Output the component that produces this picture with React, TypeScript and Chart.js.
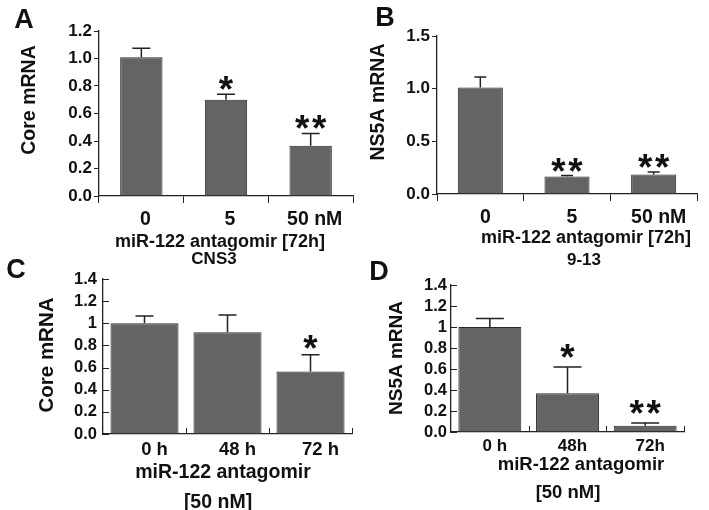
import React, { useEffect, useRef } from "react";
import { Chart, registerables } from "chart.js";

Chart.register(...registerables);

const W = 709;
const H = 510;
const FONT = '"Liberation Sans", Arial, Helvetica, sans-serif';
const BAR_FILL = "#646464";
const BAR_EDGE = "#2a2a2a";
const AXIS = "#222222";
const INK = "#111111";

// ---------- Panel A (CNS3, Core mRNA, dose) ----------
const catsA = ["0", "5", "50 nM"];
const valsA = [1.01, 0.7, 0.365];
const errsA = [0.065, 0.04, 0.09];
const starsA = ["", "*", "**"];
const yTicksA = [0, 0.2, 0.4, 0.6, 0.8, 1.0, 1.2];
const yLabelsA = ["0.0", "0.2", "0.4", "0.6", "0.8", "1.0", "1.2"];

// ---------- Panel B (9-13, NS5A mRNA, dose) ----------
const catsB = ["0", "5", "50 nM"];
const valsB = [1.01, 0.165, 0.185];
const errsB = [0.1, 0.01, 0.025];
const starsB = ["", "**", "**"];
const yTicksB = [0, 0.5, 1.0, 1.5];
const yLabelsB = ["0.0", "0.5", "1.0", "1.5"];

// ---------- Panel C (CNS3, Core mRNA, time) ----------
const catsC = ["0 h", "48 h", "72 h"];
const valsC = [1.0, 0.92, 0.565];
const errsC = [0.065, 0.155, 0.15];
const starsC = ["", "", "*"];
const yTicksC = [0, 0.2, 0.4, 0.6, 0.8, 1.0, 1.2, 1.4];
const yLabelsC = ["0.0", "0.2", "0.4", "0.6", "0.8", "1", "1.2", "1.4"];

// ---------- Panel D (9-13, NS5A mRNA, time) ----------
const catsD = ["0 h", "48h", "72h"];
const valsD = [1.0, 0.37, 0.06];
const errsD = [0.08, 0.25, 0.025];
const starsD = ["", "*", "**"];
const yTicksD = [0, 0.2, 0.4, 0.6, 0.8, 1.0, 1.2, 1.4];
const yLabelsD = ["0.0", "0.2", "0.4", "0.6", "0.8", "1", "1.2", "1.4"];

type TextItem = { text: string; x: number; y: number; size: number };

type Panel = {
  key: string;
  area: { left: number; right: number; top: number; bottom: number };
  cats: string[];
  vals: number[];
  errs: number[];
  stars: string[];
  yTicks: number[];
  yLabels: string[];
  yMax: number;
  barPct: number;
  inward: boolean;
  capHalf: number;
  starGap: number;
  xTickSize: number;
  yTickSize: number;
  xTickPad: number;
  yTickPad: number;
  labelOffset: number;
  letter: TextItem;
  yTitle: TextItem;
  xTitle: TextItem[];
};

const panels: Panel[] = [
  {
    key: "A",
    area: { left: 99, right: 353, top: 31, bottom: 196 },
    cats: catsA, vals: valsA, errs: errsA, stars: starsA,
    yTicks: yTicksA, yLabels: yLabelsA, yMax: 1.2,
    barPct: 0.5, inward: false, capHalf: 9, starGap: 11,
    xTickSize: 19.5, yTickSize: 17, xTickPad: 5, yTickPad: 2, labelOffset: 4,
    letter: { text: "A", x: 24, y: 21, size: 27 },
    yTitle: { text: "Core mRNA", x: 30, y: 100, size: 19.5 },
    xTitle: [
      { text: "miR-122 antagomir [72h]", x: 220, y: 242, size: 18 },
      { text: "CNS3", x: 214, y: 259, size: 17 },
    ],
  },
  {
    key: "B",
    area: { left: 437, right: 697, top: 36, bottom: 194 },
    cats: catsB, vals: valsB, errs: errsB, stars: starsB,
    yTicks: yTicksB, yLabels: yLabelsB, yMax: 1.5,
    barPct: 0.52, inward: false, capHalf: 6, starGap: 11,
    xTickSize: 19.5, yTickSize: 17, xTickPad: 5, yTickPad: 2, labelOffset: 5,
    letter: { text: "B", x: 385, y: 19, size: 27 },
    yTitle: { text: "NS5A mRNA", x: 379, y: 102, size: 19.5 },
    xTitle: [
      { text: "miR-122 antagomir [72h]", x: 586, y: 238, size: 18 },
      { text: "9-13", x: 584, y: 260, size: 17 },
    ],
  },
  {
    key: "C",
    area: { left: 103, right: 352, top: 279, bottom: 434 },
    cats: catsC, vals: valsC, errs: errsC, stars: starsC,
    yTicks: yTicksC, yLabels: yLabelsC, yMax: 1.4,
    barPct: 0.82, inward: true, capHalf: 9, starGap: 13,
    xTickSize: 18.5, yTickSize: 16.5, xTickPad: 5, yTickPad: 6, labelOffset: 10,
    letter: { text: "C", x: 16, y: 271, size: 27 },
    yTitle: { text: "Core mRNA", x: 47, y: 355, size: 20.5 },
    xTitle: [
      { text: "miR-122 antagomir", x: 223, y: 473, size: 19.5 },
      { text: "[50 nM]", x: 218, y: 503, size: 19.5 },
    ],
  },
  {
    key: "D",
    area: { left: 451, right: 684, top: 285, bottom: 432 },
    cats: catsD, vals: valsD, errs: errsD, stars: starsD,
    yTicks: yTicksD, yLabels: yLabelsD, yMax: 1.4,
    barPct: 0.81, inward: true, capHalf: 14, starGap: 16,
    xTickSize: 17, yTickSize: 16.5, xTickPad: 4, yTickPad: 4, labelOffset: 5,
    letter: { text: "D", x: 379, y: 273, size: 27 },
    yTitle: { text: "NS5A mRNA", x: 397, y: 358, size: 19 },
    xTitle: [
      { text: "miR-122 antagomir", x: 581, y: 465, size: 18.5 },
      { text: "[50 nM]", x: 568, y: 493, size: 18.5 },
    ],
  },
];

function boldFont(size: number) {
  return `bold ${size}px ${FONT}`;
}

function drawStar(ctx: CanvasRenderingContext2D, cx: number, cy: number, inkH: number) {
  ctx.font = boldFont(100);
  const m = ctx.measureText("*");
  const ref = m.actualBoundingBoxAscent + m.actualBoundingBoxDescent || 38;
  const size = (100 * inkH) / ref;
  ctx.font = boldFont(size);
  const mm = ctx.measureText("*");
  const base = cy - (mm.actualBoundingBoxDescent - mm.actualBoundingBoxAscent) / 2;
  ctx.textAlign = "center";
  ctx.textBaseline = "alphabetic";
  ctx.fillText("*", cx, base);
}

const overlay = {
  id: "overlay",
  afterDatasetsDraw(chart: any, _args: any, opts: any) {
    const p: Panel = opts.panel;
    const ctx: CanvasRenderingContext2D = chart.ctx;
    const yScale = chart.scales.y;
    const xScale = chart.scales.x;
    const meta = chart.getDatasetMeta(0);
    const area = chart.chartArea;
    ctx.save();
    // error bars (upper half) and significance stars
    ctx.strokeStyle = AXIS;
    ctx.lineWidth = 1.5;
    ctx.fillStyle = INK;
    meta.data.forEach((el: any, i: number) => {
      const topPx = yScale.getPixelForValue(p.vals[i] + p.errs[i]);
      ctx.beginPath();
      ctx.moveTo(el.x, el.y);
      ctx.lineTo(el.x, topPx);
      ctx.moveTo(el.x - p.capHalf, topPx);
      ctx.lineTo(el.x + p.capHalf, topPx);
      ctx.stroke();
      const s = p.stars[i];
      if (s) {
        const cy = topPx - p.starGap;
        if (s.length === 1) drawStar(ctx, el.x, cy, 14);
        else {
          drawStar(ctx, el.x - 8.5, cy, 14);
          drawStar(ctx, el.x + 8.5, cy, 14);
        }
      }
    });
    // inward ticks
    if (p.inward) {
      ctx.strokeStyle = AXIS;
      ctx.lineWidth = 1;
      yScale.ticks.forEach((t: any) => {
        const py = Math.round(yScale.getPixelForValue(t.value)) + 0.5;
        ctx.beginPath();
        ctx.moveTo(area.left, py);
        ctx.lineTo(area.left + 6, py);
        ctx.stroke();
      });
      const n = p.cats.length;
      for (let k = 1; k <= n; k++) {
        const px =
          k < n
            ? (xScale.getPixelForValue(k - 1) + xScale.getPixelForValue(k)) / 2
            : area.right;
        const rx = Math.round(px) + 0.5;
        ctx.beginPath();
        ctx.moveTo(rx, area.bottom);
        ctx.lineTo(rx, area.bottom - 6);
        ctx.stroke();
      }
    }
    // texts
    ctx.fillStyle = INK;
    ctx.textAlign = "center";
    ctx.textBaseline = "middle";
    ctx.font = boldFont(p.letter.size);
    ctx.fillText(p.letter.text, p.letter.x, p.letter.y);
    p.xTitle.forEach((t) => {
      ctx.font = boldFont(t.size);
      ctx.fillText(t.text, t.x, t.y);
    });
    ctx.save();
    ctx.translate(p.yTitle.x, p.yTitle.y);
    ctx.rotate(-Math.PI / 2);
    ctx.font = boldFont(p.yTitle.size);
    ctx.fillText(p.yTitle.text, 0, 0);
    ctx.restore();
    ctx.restore();
  },
};

function PanelChart({ p }: { p: Panel }) {
  const ref = useRef<HTMLCanvasElement>(null);
  useEffect(() => {
    if (!ref.current) return;
    const chart = new Chart(ref.current, {
      type: "bar",
      data: {
        labels: p.cats,
        datasets: [
          {
            data: p.vals,
            backgroundColor: BAR_FILL,
            borderColor: BAR_EDGE,
            borderWidth: 1,
            barPercentage: p.barPct,
            categoryPercentage: 1,
          },
        ],
      },
      options: {
        responsive: false,
        animation: false,
        devicePixelRatio: 1,
        events: [],
        layout: {
          padding: { left: 0, bottom: 0, top: p.area.top, right: W - p.area.right },
        },
        plugins: {
          legend: { display: false },
          tooltip: { enabled: false },
          title: { display: false },
          overlay: { panel: p },
        } as any,
        scales: {
          x: {
            type: "category",
            offset: true,
            grid: {
              display: true,
              offset: true,
              drawOnChartArea: false,
              drawTicks: !p.inward,
              tickLength: 7,
              color: AXIS,
              lineWidth: 1,
            },
            border: { display: true, color: AXIS, width: 1.3 },
            ticks: {
              color: INK,
              font: { family: FONT, size: p.xTickSize, weight: "bold" },
              padding: p.xTickPad,
              labelOffset: p.labelOffset,
              maxRotation: 0,
              autoSkip: false,
            },
            afterFit: (s: any) => {
              s.height = H - p.area.bottom;
            },
          },
          y: {
            type: "linear",
            min: 0,
            max: p.yMax,
            afterBuildTicks: (s: any) => {
              s.ticks = p.yTicks.map((v) => ({ value: v }));
            },
            grid: {
              display: true,
              drawOnChartArea: false,
              drawTicks: !p.inward,
              tickLength: 5,
              color: AXIS,
              lineWidth: 1,
            },
            border: { display: true, color: AXIS, width: 1.3 },
            ticks: {
              color: INK,
              font: { family: FONT, size: p.yTickSize, weight: "bold", lineHeight: 1 },
              padding: p.yTickPad,
              autoSkip: false,
              callback: (_v: any, i: number) => p.yLabels[i],
            },
            afterFit: (s: any) => {
              s.width = p.area.left;
            },
          },
        },
      } as any,
      plugins: [overlay],
    });
    return () => chart.destroy();
  }, [p]);
  return (
    <canvas
      ref={ref}
      width={W}
      height={H}
      style={{ position: "absolute", left: 0, top: 0, width: W, height: H }}
    />
  );
}

export default function App() {
  return (
    <div
      style={{
        position: "absolute",
        left: 0,
        top: 0,
        width: W,
        height: H,
        background: "#ffffff",
        overflow: "hidden",
      }}
    >
      {panels.map((p) => (
        <PanelChart key={p.key} p={p} />
      ))}
    </div>
  );
}
